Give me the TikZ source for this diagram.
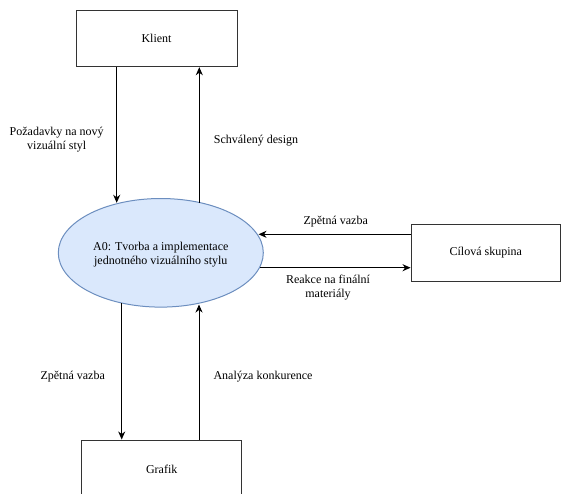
\documentclass[tikz,border=0pt]{standalone}
\usepackage{fontspec}
\setmainfont{Liberation Serif}
\usetikzlibrary{arrows.meta,shapes.geometric}
\definecolor{ellfill}{HTML}{DAE8FC}
\definecolor{elldraw}{HTML}{6C8EBF}
\definecolor{linec}{HTML}{333333}
\begin{document}
\begin{tikzpicture}[x=1pt,y=-1pt,
  every node/.style={font=\fontsize{12}{14}\selectfont},
  boxnode/.style={draw=linec,line width=1pt,rectangle,inner sep=0pt},
  ellnode/.style={draw=elldraw,fill=ellfill,line width=1pt,ellipse,inner sep=0pt,minimum width=205pt,minimum height=108.6pt},
  lbl/.style={align=center,inner sep=0pt},
  arr/.style={draw=black,line width=1pt,-{Stealth[length=8pt,width=7pt,inset=2.5pt]}}
]
\useasboundingbox (0,0) rectangle (561,493);
\node[boxnode,minimum width=161pt,minimum height=56pt] (kl) at (156.5,38.7) {Klient};
\node[boxnode,minimum width=160pt,minimum height=58pt] (gr) at (161.7,469) {Grafik};
\node[boxnode,minimum width=149.5pt,minimum height=56.7pt] (cs) at (485.8,252.7) {Cílová skupina};
\node[ellnode] (el) at (160.8,252.8) {};
\node[lbl] (eltxt) at (160.8,255) {A0: Tvorba a implementace\\jednotného vizuálního stylu};

\coordinate (e1) at (116.7,202.8);
\coordinate (e2) at (199.3,202.5);
\coordinate (e3) at (121.7,303);
\coordinate (e4) at (199,304.5);
\coordinate (e5) at (258.5,234.3);
\coordinate (e6) at (260,267.7);

\draw[arr] (kl.south -| e1) -- (e1);
\draw[arr] (e2) -- (kl.south -| e2);
\draw[arr] (e3) -- (gr.north -| e3);
\draw[arr] (gr.north -| e4) -- (e4);
\draw[arr] (cs.west |- e5) -- (e5);
\draw[arr] (e6) -- (cs.west |- e6);

\node[lbl] (l1) at (56.7,139.5) {Požadavky na nový\\vizuální styl};
\node[lbl] (l2) at (256,140.7) {Schválený design};
\node[lbl] (l3) at (335.7,222) {Zpětná vazba};
\node[lbl] (l4) at (328,287.5) {Reakce na finální\\materiály};
\node[lbl] (l5) at (72.7,376.7) {Zpětná vazba};
\node[lbl] (l6) at (263,376.7) {Analýza konkurence};
\end{tikzpicture}
\end{document}
